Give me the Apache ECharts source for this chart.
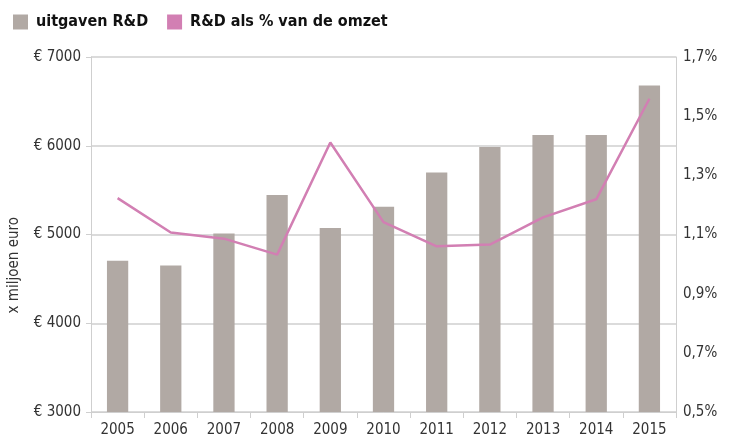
<!DOCTYPE html>
<html>
<head>
<meta charset="utf-8">
<style>
  html, body { margin: 0; padding: 0; background: #fff; }
  #chart { width: 731px; height: 440px; }
</style>
<script src="https://cdn.jsdelivr.net/npm/echarts@6/dist/echarts.min.js"></script>
</head>
<body>
<div id="chart"></div>
<script>
var years = ['2005', '2006', '2007', '2008', '2009', '2010', '2011', '2012', '2013', '2014', '2015'];
// uitgaven R&D, x miljoen euro
var uitgaven = [4705, 4652, 5012, 5445, 5073, 5313, 5700, 5986, 6121, 6121, 6680];
// R&D als % van de omzet
var percOmzet = [1.223, 1.107, 1.086, 1.032, 1.411, 1.142, 1.060, 1.066, 1.158, 1.219, 1.559];

var font = '"DejaVu Sans Condensed", "Liberation Sans", sans-serif';
var barColor = '#b1a9a4',
    lineColor = '#d27fb3',
    axisColor = '#cfcfcf',
    textColor = '#333';

var chart = echarts.init(document.getElementById('chart'), null, { renderer: 'canvas' });
chart.setOption({
    animation: false,
    textStyle: { fontFamily: font },
    legend: {
        left: 8,
        top: 9,
        itemWidth: 15,
        itemHeight: 15,
        itemGap: 19,
        textStyle: { fontFamily: font, fontSize: 16, fontWeight: 'bold', color: '#111', padding: [0, 0, 0, 3] },
        data: [
            { name: 'uitgaven R&D', icon: 'rect' },
            { name: 'R&D als % van de omzet', icon: 'rect' }
        ]
    },
    grid: { left: 91, right: 55, top: 57, bottom: 28 },
    graphic: [{
        type: 'text',
        left: 7,
        top: 217,
        rotation: Math.PI / 2,
        style: { text: 'x miljoen euro', font: '15px ' + font, fill: textColor }
    }],
    xAxis: {
        type: 'category',
        data: years,
        axisLine: { lineStyle: { color: axisColor } },
        axisTick: { show: true, length: 6, lineStyle: { color: axisColor } },
        axisLabel: { color: textColor, fontSize: 15, margin: 11 }
    },
    yAxis: [{
        type: 'value',
        min: 3000,
        max: 7000,
        interval: 1000,
        axisLine: { show: true, lineStyle: { color: axisColor } },
        axisTick: { show: true, length: 5, lineStyle: { color: axisColor } },
        axisLabel: {
            color: textColor, fontSize: 15, margin: 10,
            formatter: function (v) { return '€ ' + v; }
        },
        splitLine: { lineStyle: { color: axisColor, width: 1.5 } }
    }, {
        type: 'value',
        min: 0.5,
        max: 1.7,
        interval: 0.2,
        position: 'right',
        axisLine: { show: true, lineStyle: { color: axisColor } },
        axisTick: { show: false },
        splitLine: { show: false },
        axisLabel: {
            color: textColor, fontSize: 15, margin: 7,
            formatter: function (v) { return v.toFixed(1).replace('.', ',') + '%'; }
        }
    }],
    series: [{
        name: 'uitgaven R&D',
        type: 'bar',
        data: uitgaven,
        barWidth: '40%',
        itemStyle: { color: barColor }
    }, {
        name: 'R&D als % van de omzet',
        type: 'line',
        yAxisIndex: 1,
        data: percOmzet,
        symbol: 'none',
        lineStyle: { color: lineColor, width: 2.5 },
        itemStyle: { color: lineColor }
    }]
});
</script>
</body>
</html>
